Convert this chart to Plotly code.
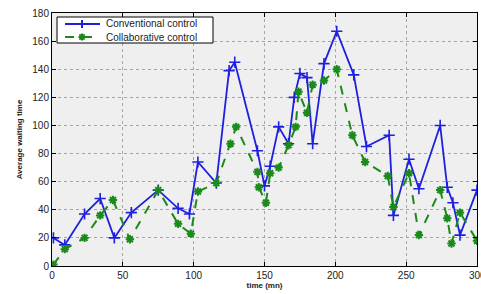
import plotly.graph_objects as go

# Conventional control (blue)
conv_time = [1, 9, 23, 34, 44, 56, 75, 89, 97, 103, 116, 125, 129, 145, 150, 154, 160, 167, 171, 175, 180, 184, 192, 201, 213, 222, 238, 241, 252, 259, 274, 279, 283, 288, 300]
conv_wait = [20, 15, 37, 48, 20, 38, 54, 41, 37, 74, 59, 139, 145, 82, 57, 71, 99, 87, 120, 137, 134, 87, 144, 167, 136, 85, 93, 36, 76, 55, 100, 56, 45, 22, 54]

# Collaborative control (green)
coll_time = [1, 9, 23, 34, 43, 55, 75, 89, 98, 103, 116, 126, 130, 145, 146, 151, 154, 160, 167, 172, 174, 180, 184, 192, 201, 212, 221, 237, 241, 252, 259, 274, 279, 282, 288, 300]
coll_wait = [1, 12, 20, 36, 47, 19, 54, 30, 23, 53, 59, 87, 99, 67, 56, 45, 66, 70, 86, 99, 124, 109, 129, 132, 140, 93, 74, 64, 42, 66, 22, 54, 34, 16, 38, 18]

series_names = ["Conventional control", "Collaborative control"]
x_ticks = [0, 50, 100, 150, 200, 250, 300]
y_ticks = [0, 20, 40, 60, 80, 100, 120, 140, 160, 180]

FONT = "Liberation Sans, Arial, sans-serif"
BLUE = "#1f1fe0"
GREEN = "#1a8a1a"

W, H = 481, 294
ML, MR, MT, MB = 52, 4, 13, 28
PW, PH = W - ML - MR, H - MT - MB


def fx(px):
    return (px - ML) / PW


def fy(py):
    return (H - MB - py) / PH


fig = go.Figure()
fig.add_trace(go.Scatter(
    x=conv_time, y=conv_wait, name=series_names[0],
    mode="lines+markers", showlegend=False,
    line=dict(color=BLUE, width=1.8),
    marker=dict(symbol="cross-thin-open", size=8, color=BLUE,
                line=dict(width=1.6, color=BLUE)),
))
fig.add_trace(go.Scatter(
    x=coll_time, y=coll_wait, name=series_names[1],
    mode="lines+markers", showlegend=False,
    line=dict(color=GREEN, width=2, dash="dash"),
    marker=dict(symbol="asterisk-open", size=7, color=GREEN,
                line=dict(width=2, color=GREEN)),
))

axis_common = dict(
    showline=True, linecolor="black", linewidth=1, mirror="ticks",
    ticks="inside", ticklen=4, tickcolor="black",
    showgrid=True, gridcolor="#a5a5a5", griddash="dot", gridwidth=1,
    zeroline=False, automargin=False,
    tickfont=dict(family=FONT, size=10, color="#222"),
)

# manual compact legend (MATLAB style)
shapes = [dict(type="rect", xref="paper", yref="paper",
               x0=fx(57), x1=fx(213), y0=fy(43), y1=fy(17),
               fillcolor="white", line=dict(color="black", width=1), layer="above")]
annotations = []
rows = [(24, BLUE, "solid", "plus"), (37, GREEN, "dash", "star")]
for (ry, col, dash, mk), name in zip(rows, series_names):
    shapes.append(dict(type="line", xref="paper", yref="paper",
                       x0=fx(65), x1=fx(100), y0=fy(ry), y1=fy(ry),
                       line=dict(color=col, width=2, dash=dash), layer="above"))
    cx = 82
    r = 4 if mk == "plus" else 3.5
    segs = [((cx - r, ry), (cx + r, ry)), ((cx, ry - r), (cx, ry + r))]
    if mk == "star":
        d = r * 0.75
        segs += [((cx - d, ry - d), (cx + d, ry + d)), ((cx - d, ry + d), (cx + d, ry - d))]
    for (ax, ay), (bx, by) in segs:
        shapes.append(dict(type="line", xref="paper", yref="paper",
                           x0=fx(ax), x1=fx(bx), y0=fy(ay), y1=fy(by),
                           line=dict(color=col, width=2), layer="above"))
    annotations.append(dict(xref="paper", yref="paper", x=fx(104), y=fy(ry),
                            xanchor="left", yanchor="middle", showarrow=False,
                            text=name, font=dict(family=FONT, size=10, color="#222")))

annotations.append(dict(x=300, y=0, xref="x", yref="y", text="300",
                        showarrow=False, yanchor="top", yshift=-2,
                        font=dict(family=FONT, size=10, color="#222")))

fig.update_layout(
    width=W, height=H,
    margin=dict(l=ML, r=MR, t=MT, b=MB),
    paper_bgcolor="white",
    plot_bgcolor="#efefef",
    showlegend=False,
    xaxis=dict(axis_common, range=[0, 300], tickvals=x_ticks,
               title=dict(text="<b>time (mn)</b>", standoff=1,
                          font=dict(family=FONT, size=8, color="#222"))),
    yaxis=dict(axis_common, range=[0, 180], tickvals=y_ticks,
               title=dict(text="<b>Average waiting time</b>", standoff=8,
                          font=dict(family=FONT, size=8, color="#222"))),
    shapes=shapes,
    annotations=annotations,
)

fig.write_html("out.html", config={"displayModeBar": False},
               post_script="document.body.style.margin='0';document.body.style.overflow='hidden';")
